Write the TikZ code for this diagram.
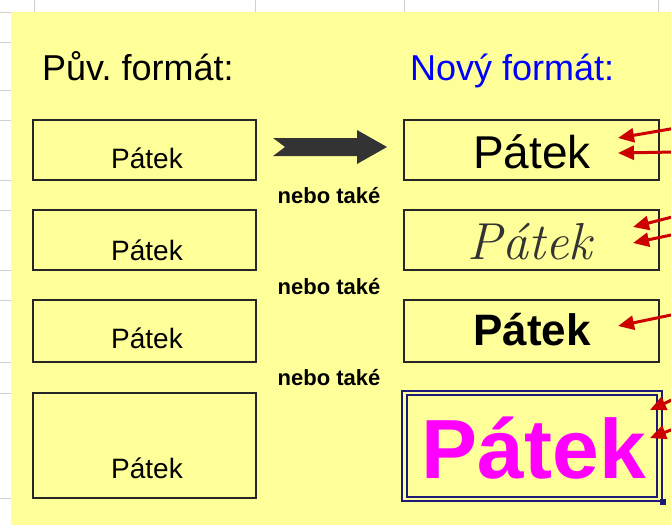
\documentclass[tikz,border=0pt]{standalone}
\usepackage{fontspec}
\newfontfamily\arial{Liberation Sans}
\usepackage{xcolor}
\usetikzlibrary{arrows.meta,positioning}

\definecolor{sheet}{HTML}{FFFF99}
\definecolor{gridgray}{HTML}{D0D0D0}
\definecolor{pointred}{HTML}{CC0000}
\definecolor{selnavy}{HTML}{1C1C78}
\definecolor{hotpink}{HTML}{FF00FF}

\newcommand{\fs}[1]{\fontsize{#1}{#1}\selectfont}
\frenchspacing

\begin{document}
\begin{tikzpicture}[x=1pt,y=-1pt]
	\tikzstyle{oldbox}=[draw=black!85, line width=1.2pt, minimum width=223pt, minimum height=60pt, inner sep=0pt]
	\tikzstyle{newbox}=[oldbox, minimum width=255pt]
	\tikzstyle{oldtxt}=[anchor=base, inner sep=0pt, font=\arial\fs{28}]
	\tikzstyle{newtxt}=[anchor=base, inner sep=0pt]
	\tikzstyle{ortext}=[anchor=base, inner sep=0pt, font=\arial\bfseries\fs{22}]
	\tikzstyle{pointer}=[draw=pointred, line width=3pt, -{Triangle[length=16pt,width=14pt]}]

	\useasboundingbox (0,0) rectangle (671,525);
	\fill[white] (0,0) rectangle (671,525);
	\fill[sheet] (11,12) rectangle (671,525);

	% grid of the sheet
	\foreach \gx in {34,255,404,658}
		\draw[gridgray, line width=1pt] (\gx,0) -- (\gx,12);
	\foreach \gy in {12,42,90,120,180,210,270,300,362,393,498}
		\draw[gridgray, line width=1pt] (0,\gy) -- (11,\gy);

	% titles
	\node[anchor=base west, inner sep=0pt, font=\arial\fs{36}] (titleOld) at (42,80) {Pův. formát:};
	\node[anchor=base west, inner sep=0pt, font=\arial\fs{36}, text=blue] (titleNew) at (410,80) {Nový formát:};

	% old format
	\node[oldbox] (old1) at (144.5,150) {};
	\node[oldbox] (old2) at (144.5,240) {};
	\node[oldbox, minimum height=62pt] (old3) at (144.5,331) {};
	\node[oldbox, minimum height=105pt] (old4) at (144.5,445.5) {};
	\node[oldtxt] (oldtxt1) at (147,168) {Pátek};
	\node[oldtxt] (oldtxt2) at (147,260) {Pátek};
	\node[oldtxt] (oldtxt3) at (147,348) {Pátek};
	\node[oldtxt] (oldtxt4) at (147,478) {Pátek};

	% new format
	\node[newbox] (new1) at (531.5,150) {};
	\node[newbox] (new2) at (531.5,240) {};
	\node[newbox, minimum height=62pt] (new3) at (531.5,331) {};
	\node[draw=selnavy, line width=1.6pt, minimum width=260pt, minimum height=110pt, inner sep=0pt] (new4) at (532,446) {};
	\node[draw=selnavy, line width=1.6pt, minimum width=250pt, minimum height=102pt, inner sep=0pt] (new4in) at (532,446) {};
	\node[fill=selnavy, minimum size=6pt, inner sep=0pt] (handle) at (new4.south east) {};

	\node[newtxt, font=\arial\fs{46}] (newtxt1) at (532,168) {Pátek};
	\node[newtxt, font=\itshape\fs{52}, text=black!80] (newtxt2) at (530,259) {Pátek};
	\node[newtxt, font=\arial\bfseries\fs{44}] (newtxt3) at (532,345) {Pátek};
	\node[newtxt, font=\arial\bfseries\fs{84}, text=hotpink] (newtxt4) at (534,478) {Pátek};

	% big arrow and alternatives
	\fill[black!80] (273,138) -- (357,138) -- (357,130) -- (387,147) -- (357,164)
		-- (357,156) -- (273,156) -- (285,147) -- cycle;
	\node[ortext] (or1) at (329,203) {nebo také};
	\node[ortext] (or2) at (329,294) {nebo také};
	\node[ortext] (or3) at (329,385) {nebo také};

	% red pointers from the right edge
	\coordinate (t1) at (676,128);  \coordinate (h1) at (618,138);
	\coordinate (t2) at (676,152);  \coordinate (h2) at (618,153);
	\coordinate (t3) at (676,216);  \coordinate (h3) at (633,227);
	\coordinate (t4) at (676,234);  \coordinate (h4) at (633,243);
	\coordinate (t5) at (676,314);  \coordinate (h5) at (618,326);
	\coordinate (t6) at (676,398);  \coordinate (h6) at (650,410);
	\coordinate (t7) at (676,428);  \coordinate (h7) at (650,438);
	\foreach \i in {1,...,7}
		\draw[pointer] (t\i) -- (h\i);
\end{tikzpicture}
\end{document}
